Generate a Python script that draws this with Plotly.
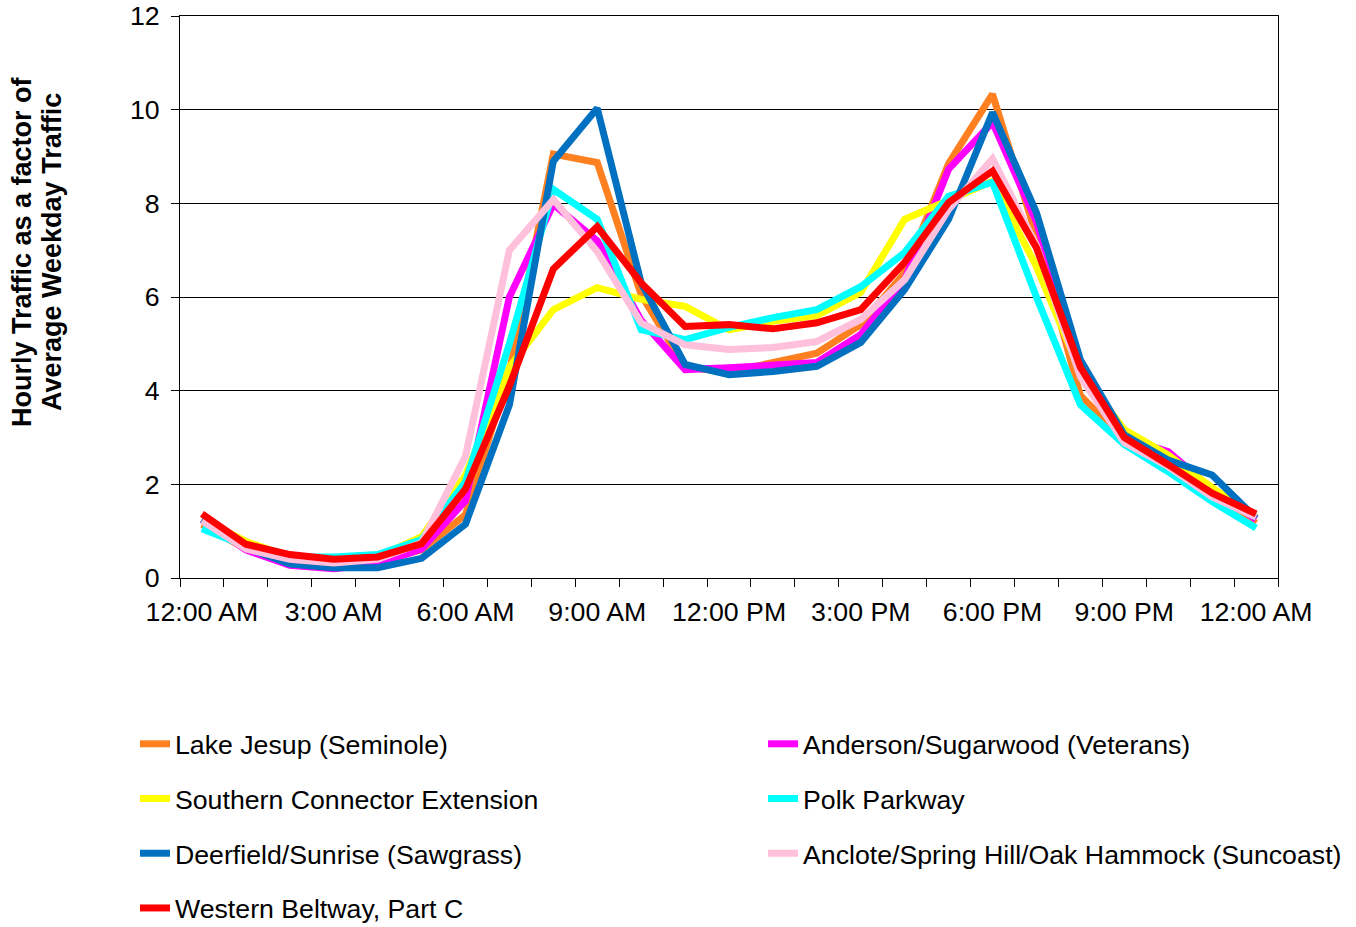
import plotly.graph_objects as go

# ---- data ----
hours = list(range(25))  # 12:00 AM ... 12:00 AM (next day)
tick_hours = [0, 3, 6, 9, 12, 15, 18, 21, 24]
tick_labels = ["12:00 AM", "3:00 AM", "6:00 AM", "9:00 AM", "12:00 PM",
               "3:00 PM", "6:00 PM", "9:00 PM", "12:00 AM"]

lake_jesup = [1.15, 0.62, 0.35, 0.25, 0.35, 0.60, 1.35, 4.40, 9.05, 8.87, 6.05, 4.50, 4.40,
              4.60, 4.80, 5.41, 6.52, 8.85, 10.33, 7.30, 3.90, 2.95, 2.55, 1.80, 1.17]
anderson = [1.25, 0.60, 0.27, 0.20, 0.30, 0.62, 1.65, 6.00, 7.98, 7.20, 5.50, 4.45, 4.49,
            4.56, 4.60, 5.20, 6.37, 8.73, 9.73, 7.60, 4.50, 3.00, 2.70, 1.90, 1.25]
southern = [1.25, 0.78, 0.45, 0.35, 0.45, 0.88, 2.20, 4.50, 5.73, 6.20, 5.95, 5.80, 5.30,
            5.48, 5.60, 6.10, 7.66, 8.08, 8.47, 6.65, 4.40, 3.17, 2.63, 1.93, 1.30]
polk = [1.05, 0.68, 0.45, 0.45, 0.50, 0.82, 2.05, 5.00, 8.30, 7.66, 5.30, 5.09, 5.35,
        5.56, 5.73, 6.22, 6.95, 8.15, 8.45, 6.00, 3.70, 2.85, 2.27, 1.63, 1.07]
deerfield = [1.25, 0.65, 0.30, 0.22, 0.22, 0.42, 1.15, 3.70, 8.90, 10.03, 6.30, 4.56, 4.34,
             4.41, 4.52, 5.03, 6.16, 7.66, 9.94, 7.80, 4.66, 3.06, 2.52, 2.20, 1.28]
anclote = [1.22, 0.62, 0.40, 0.32, 0.40, 0.75, 2.60, 7.00, 8.08, 6.97, 5.45, 4.98, 4.88,
           4.92, 5.05, 5.52, 6.37, 7.87, 8.95, 7.10, 4.30, 2.89, 2.38, 1.73, 1.30]
western = [1.37, 0.72, 0.50, 0.40, 0.45, 0.73, 1.90, 4.10, 6.60, 7.50, 6.30, 5.37, 5.41,
           5.32, 5.45, 5.73, 6.74, 8.02, 8.69, 7.05, 4.50, 3.00, 2.42, 1.81, 1.37]

series_names = ["Lake Jesup (Seminole)", "Anderson/Sugarwood (Veterans)",
                "Southern Connector Extension", "Polk Parkway",
                "Deerfield/Sunrise (Sawgrass)", "Anclote/Spring Hill/Oak Hammock (Suncoast)",
                "Western Beltway, Part C"]
series_values = [lake_jesup, anderson, southern, polk, deerfield, anclote, western]
series_colors = ["#FF8020", "#FF00FF", "#FFFF00", "#00FFFF", "#0070C0", "#FFC0DC", "#FF0000"]
series_legend = ["legend", "legend2", "legend", "legend2", "legend", "legend2", "legend"]

FONT = "Liberation Sans, Arial, sans-serif"
FS = 26.7

fig = go.Figure()
for name, vals, col, leg in zip(series_names, series_values, series_colors, series_legend):
    fig.add_trace(go.Scatter(
        x=hours, y=vals, name=name, mode="lines",
        line=dict(color=col, width=7),
        legend=leg, legendgroup=name,
    ))

legend_style = dict(xanchor="left", yanchor="top", orientation="v",
                    font=dict(family=FONT, size=FS, color="black"),
                    tracegroupgap=17, bgcolor="rgba(0,0,0,0)", borderwidth=0)

fig.update_layout(
    width=1356, height=927,
    margin=dict(l=180, r=78, t=16, b=349, autoexpand=False),
    paper_bgcolor="white", plot_bgcolor="white",
    font=dict(family=FONT, size=FS, color="black"),
    showlegend=True,
    legend=dict(x=-0.0410, y=-0.2526, **legend_style),
    legend2=dict(x=0.5310, y=-0.2526, **legend_style),
)

fig.update_xaxes(
    range=[-0.5, 24.5], tickmode="array", tickvals=tick_hours, ticktext=tick_labels,
    ticks="", showgrid=False, zeroline=False, tickangle=0,
    showline=True, linecolor="black", linewidth=1, mirror=True,
    tickfont=dict(family=FONT, size=FS, color="black"), ticklabelstandoff=10,
    ticklabeloverflow="allow",
    minor=dict(tickmode="linear", tick0=-0.5, dtick=1, ticks="outside",
               ticklen=8, tickcolor="black", tickwidth=1, showgrid=False),
)
fig.update_yaxes(
    range=[0, 12], tickmode="linear", tick0=0, dtick=2,
    ticks="outside", ticklen=8, tickcolor="black", tickwidth=1,
    showgrid=True, gridcolor="black", gridwidth=1, zeroline=False,
    showline=True, linecolor="black", linewidth=1, mirror=True,
    tickfont=dict(family=FONT, size=FS, color="black"), ticklabelstandoff=6,
    ticklabeloverflow="allow",
)

title_lines = ["Hourly Traffic as a factor of", "Average Weekday Traffic"]
title_px = [22, 52]
for txt, px in zip(title_lines, title_px):
    fig.add_annotation(
        text="<b>" + txt + "</b>", textangle=-90, showarrow=False,
        xref="paper", yref="paper",
        x=(px - 180) / 1098, y=(578 - 252) / 562,
        xanchor="center", yanchor="middle",
        font=dict(family=FONT, size=27, color="black"),
    )

fig.write_html("out.html", config={"displayModeBar": False},
               post_script="document.body.style.margin='0px';")
